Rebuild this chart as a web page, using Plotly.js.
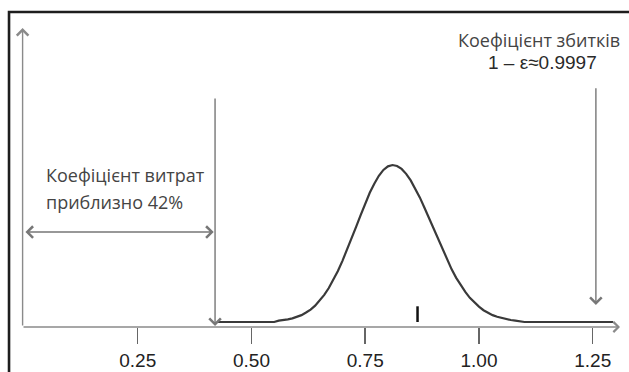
<!DOCTYPE html>
<html>
<head>
<meta charset="utf-8">
<script src="https://cdn.plot.ly/plotly-3.0.1.min.js"></script>
<style>
html,body{margin:0;padding:0;background:#fff;}
#chart{width:629px;height:372px;}
</style>
</head>
<body>
<div id="chart"></div>
<script>
// Simulated loss-ratio density
const curveX = [0.425, 0.55,
  0.56, 0.57, 0.58, 0.59, 0.60, 0.61, 0.62, 0.63, 0.64, 0.65,
  0.66, 0.67, 0.68, 0.69, 0.70, 0.71, 0.72, 0.73, 0.74, 0.75,
  0.76, 0.77, 0.78, 0.79, 0.80, 0.81, 0.82, 0.83, 0.84, 0.85,
  0.86, 0.87, 0.88, 0.89, 0.90, 0.91, 0.92, 0.93, 0.94, 0.95,
  0.96, 0.97, 0.98, 0.99, 1.00, 1.01, 1.02, 1.03, 1.04, 1.05,
  1.06, 1.07, 1.08, 1.09,
  1.10, 1.295];
const curveY = [0, 0,
  0.04, 0.05, 0.08, 0.11, 0.15, 0.21, 0.29, 0.38, 0.50, 0.65,
  0.83, 1.04, 1.28, 1.56, 1.87, 2.20, 2.55, 2.91, 3.27, 3.62,
  3.95, 4.23, 4.47, 4.65, 4.76, 4.80, 4.77, 4.68, 4.53, 4.33,
  4.08, 3.81, 3.50, 3.18, 2.85, 2.52, 2.20, 1.90, 1.61, 1.35,
  1.12, 0.92, 0.74, 0.59, 0.47, 0.36, 0.28, 0.21, 0.16, 0.12,
  0.09, 0.06, 0.04, 0.03,
  0, 0];

// observed value marker
const markX = [0.865, 0.865];
const markY = [0, 0.48];

// tick values / labels
const tickVals = [0.25, 0.50, 0.75, 1.00, 1.25];
const tickText = ['0.25', '0.50', '0.75', '1.00', '1.25'];

// annotation anchors
const expenseRatio = 0.42;
const lossX = 1.257;

const traces = [
  {x: curveX, y: curveY, type: 'scatter', mode: 'lines',
   line: {color: '#3a3a3a', width: 2.2}, hoverinfo: 'skip'},
  {x: markX, y: markY, type: 'scatter', mode: 'lines',
   line: {color: '#111', width: 2.5}, hoverinfo: 'skip'}
];

const grey = '#8a8a8a';
const layout = {
  width: 629, height: 372,
  margin: {l: 22, r: 9, t: 28, b: 45},
  paper_bgcolor: '#fff', plot_bgcolor: '#fff',
  showlegend: false,
  xaxis: {
    range: [-0.0043, 1.31], showgrid: false, zeroline: false, showline: false,
    tickmode: 'array', tickvals: tickVals, ticktext: tickText,
    ticks: 'outside', ticklen: 16, tickwidth: 1.5, tickcolor: '#666',
    tickfont: {family: 'Liberation Sans, Arial, sans-serif', size: 19, color: '#222'}
  },
  yaxis: {range: [-0.153, 8.99], visible: false, fixedrange: true},
  shapes: [
    {type: 'rect', xref: 'paper', yref: 'paper', x0: -0.0217, x1: 1.05, y0: -0.3, y1: 1.0535,
     line: {color: '#1e1e1e', width: 2.6}, fillcolor: 'rgba(0,0,0,0)', layer: 'above'}
  ],
  annotations: [
    // y axis with arrow
    {xref: 'paper', yref: 'paper', x: 0.001, y: 1, ax: 0, ay: 299, axref: 'pixel', ayref: 'pixel',
     text: '', showarrow: true, arrowhead: 4, arrowsize: 1.6, arrowwidth: 1.4, arrowcolor: grey},
    // x axis with arrow
    {xref: 'paper', yref: 'paper', x: 1, y: 0, ax: -598, ay: 0,
     text: '', showarrow: true, arrowhead: 4, arrowsize: 1.4, arrowwidth: 1.4, arrowcolor: grey},
    // vertical expense ratio line
    {xref: 'x', yref: 'y', axref: 'x', ayref: 'y', x: expenseRatio, y: -0.12, ax: expenseRatio, ay: 6.88,
     text: '', showarrow: true, arrowhead: 4, arrowsize: 1.6, arrowwidth: 1.4, arrowcolor: '#777'},
    // horizontal double arrow
    {xref: 'x', yref: 'y', axref: 'x', ayref: 'y', x: expenseRatio - 0.003, y: 2.75, ax: 0.0, ay: 2.75,
     text: '', showarrow: true, arrowside: 'end+start', arrowhead: 4, arrowsize: 1.6, arrowwidth: 1.4, arrowcolor: '#777'},
    // loss ratio arrow
    {xref: 'x', yref: 'y', axref: 'x', ayref: 'y', x: lossX, y: 0.52, ax: lossX, ay: 7.19,
     text: '', showarrow: true, arrowhead: 4, arrowsize: 1.6, arrowwidth: 1.4, arrowcolor: '#777'},
    // texts
    {xref: 'x', yref: 'y', x: 0.043, y: 4.48, xanchor: 'left', yanchor: 'middle', showarrow: false,
     text: 'Коефіцієнт витрат', font: {family: 'Open Sans, sans-serif', size: 18, color: '#444'}},
    {xref: 'x', yref: 'y', x: 0.043, y: 3.66, xanchor: 'left', yanchor: 'middle', showarrow: false,
     text: 'приблизно 42%', font: {family: 'Open Sans, sans-serif', size: 18, color: '#444'}},
    {xref: 'x', yref: 'y', x: 1.132, y: 8.62, xanchor: 'center', yanchor: 'middle', showarrow: false,
     text: 'Коефіцієнт збитків', font: {family: 'Open Sans, sans-serif', size: 18, color: '#444'}},
    {xref: 'x', yref: 'y', x: 1.139, y: 7.92, xanchor: 'center', yanchor: 'middle', showarrow: false,
     text: '1 – ε≈0.9997', font: {family: 'Liberation Sans, Arial, sans-serif', size: 19, color: '#2a2a2a'}}
  ]
};

Plotly.newPlot('chart', traces, layout, {staticPlot: true, displayModeBar: false});
</script>
</body>
</html>
